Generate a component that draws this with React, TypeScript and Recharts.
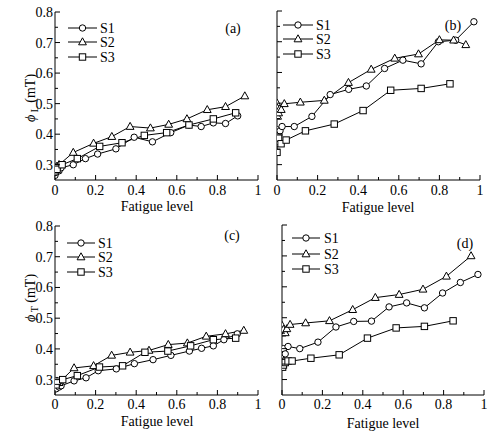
import React from 'react';
import { LineChart, Line, XAxis, YAxis } from 'recharts';

// panel (a) phi_L, sample S1-S3
const aS1X = [0, 0.005, 0.01, 0.02, 0.03, 0.09, 0.15, 0.21, 0.3, 0.39, 0.48, 0.57, 0.66, 0.72, 0.78, 0.84, 0.9];
const aS1Y = [0.265, 0.275, 0.285, 0.28, 0.29, 0.3, 0.32, 0.335, 0.352, 0.39, 0.375, 0.405, 0.43, 0.425, 0.437, 0.435, 0.46];
const aS2X = [0, 0.005, 0.01, 0.02, 0.09, 0.19, 0.28, 0.37, 0.47, 0.56, 0.65, 0.75, 0.84, 0.935];
const aS2Y = [0.285, 0.29, 0.295, 0.3, 0.34, 0.37, 0.392, 0.425, 0.42, 0.432, 0.45, 0.48, 0.49, 0.525];
const aS3X = [0, 0.005, 0.01, 0.035, 0.11, 0.22, 0.33, 0.44, 0.55, 0.66, 0.78, 0.89];
const aS3Y = [0.28, 0.29, 0.285, 0.3, 0.32, 0.36, 0.372, 0.396, 0.405, 0.43, 0.45, 0.47];

// panel (b)
const bS1X = [0, 0.003, 0.006, 0.01, 0.015, 0.025, 0.085, 0.172, 0.262, 0.353, 0.44, 0.53, 0.62, 0.71, 0.795, 0.88, 0.97];
const bS1Y = [0.4, 0.413, 0.39, 0.397, 0.41, 0.424, 0.424, 0.457, 0.528, 0.545, 0.556, 0.613, 0.64, 0.628, 0.7, 0.705, 0.765];
const bS2X = [0, 0.001, 0.003, 0.008, 0.013, 0.021, 0.036, 0.115, 0.233, 0.352, 0.464, 0.58, 0.697, 0.8, 0.87, 0.93];
const bS2Y = [0.5, 0.484, 0.457, 0.468, 0.481, 0.479, 0.498, 0.503, 0.509, 0.567, 0.61, 0.646, 0.66, 0.706, 0.705, 0.69];
const bS3X = [0, 0, 0.003, 0.008, 0.02, 0.045, 0.14, 0.282, 0.424, 0.56, 0.71, 0.852];
const bS3Y = [0.34, 0.37, 0.375, 0.386, 0.368, 0.38, 0.41, 0.432, 0.476, 0.542, 0.548, 0.563];

// panel (c) phi_T
const cS1X = [0, 0.005, 0.01, 0.02, 0.03, 0.094, 0.153, 0.213, 0.302, 0.391, 0.483, 0.571, 0.662, 0.722, 0.78, 0.832, 0.898];
const cS1Y = [0.28, 0.27, 0.285, 0.276, 0.28, 0.296, 0.306, 0.329, 0.335, 0.352, 0.365, 0.379, 0.393, 0.402, 0.41, 0.43, 0.449];
const cS2X = [0, 0.005, 0.01, 0.02, 0.094, 0.19, 0.279, 0.37, 0.463, 0.558, 0.652, 0.745, 0.84, 0.93];
const cS2Y = [0.29, 0.285, 0.295, 0.29, 0.338, 0.345, 0.379, 0.389, 0.395, 0.414, 0.419, 0.441, 0.449, 0.46];
const cS3X = [0, 0.005, 0.012, 0.038, 0.11, 0.219, 0.333, 0.443, 0.556, 0.668, 0.78, 0.89];
const cS3Y = [0.29, 0.283, 0.295, 0.3, 0.313, 0.341, 0.345, 0.389, 0.393, 0.41, 0.43, 0.435];

// panel (d)
const dS1X = [0, 0.002, 0.008, 0.016, 0.03, 0.088, 0.178, 0.267, 0.355, 0.443, 0.53, 0.617, 0.705, 0.795, 0.883, 0.97];
const dS1Y = [0.389, 0.38, 0.4, 0.383, 0.407, 0.4, 0.421, 0.47, 0.488, 0.489, 0.535, 0.548, 0.532, 0.58, 0.614, 0.64];
const dS2X = [0, 0, 0.007, 0.016, 0.024, 0.04, 0.117, 0.235, 0.35, 0.462, 0.58, 0.698, 0.814, 0.936];
const dS2Y = [0.475, 0.45, 0.462, 0.451, 0.464, 0.478, 0.483, 0.49, 0.526, 0.565, 0.575, 0.592, 0.634, 0.7];
const dS3X = [0, 0.003, 0.007, 0.016, 0.03, 0.05, 0.143, 0.283, 0.423, 0.565, 0.705, 0.847];
const dS3Y = [0.356, 0.34, 0.347, 0.355, 0.36, 0.36, 0.369, 0.38, 0.434, 0.467, 0.472, 0.49];

const seriesNames = ['S1', 'S2', 'S3'];
const xTicks = [0, 0.1, 0.2, 0.3, 0.4, 0.5, 0.6, 0.7, 0.8, 0.9, 1];
const yTicks = [0.3, 0.35, 0.4, 0.45, 0.5, 0.55, 0.6, 0.65, 0.7, 0.75, 0.8];

const FONT = "'Liberation Serif', 'DejaVu Serif', serif";
const SHAPES = ['circle', 'triangle', 'square'];
const txtStyle = { fontFamily: FONT, fontSize: 14, fill: '#000' };

type Pt = { x: number; y: number };
const zip = (xs: number[], ys: number[]): Pt[] => xs.map((x, i) => ({ x, y: ys[i] }));

const Marker = ({ shape, cx, cy }: { shape: string; cx: number; cy: number }) => {
  if (shape === 'circle') return <circle cx={cx} cy={cy} r={3.2} fill="#fff" stroke="#000" strokeWidth={1} />;
  if (shape === 'triangle')
    return (
      <polygon
        points={`${cx},${cy - 4.2} ${cx - 3.9},${cy + 2.8} ${cx + 3.9},${cy + 2.8}`}
        fill="#fff"
        stroke="#000"
        strokeWidth={1}
      />
    );
  return <rect x={cx - 3.2} y={cy - 3.2} width={6.4} height={6.4} fill="#fff" stroke="#000" strokeWidth={1} />;
};

const isMajorX = (v: number) => Math.round(v * 10) % 2 === 0;
const isMajorY = (v: number) => Math.round(v * 100) % 10 === 0;
const fmtX = (v: number) => (v === 0 ? '0' : v === 1 ? '1' : v.toFixed(1));

const panels = [
  { id: 'a', plot: { x: 55, y: 12, w: 203, h: 168 }, labels: true, tickDy: 15, series: [zip(aS1X, aS1Y), zip(aS2X, aS2Y), zip(aS3X, aS3Y)] },
  { id: 'b', plot: { x: 277, y: 11, w: 203, h: 169 }, labels: false, tickDy: 15, series: [zip(bS1X, bS1Y), zip(bS2X, bS2Y), zip(bS3X, bS3Y)] },
  { id: 'c', plot: { x: 55, y: 226, w: 203, h: 169 }, labels: true, tickDy: 13.5, series: [zip(cS1X, cS1Y), zip(cS2X, cS2Y), zip(cS3X, cS3Y)] },
  { id: 'd', plot: { x: 282, y: 225, w: 202, h: 170 }, labels: false, tickDy: 13.5, series: [zip(dS1X, dS1Y), zip(dS2X, dS2Y), zip(dS3X, dS3Y)] },
];

const legends = [
  { x1: 68, x2: 97, tx: 100, rows: [28, 42, 57], tag: { x: 233, y: 33, t: '(a)' } },
  { x1: 283, x2: 313, tx: 316, rows: [25, 39, 54], tag: { x: 453, y: 30, t: '(b)' } },
  { x1: 67, x2: 95, tx: 98, rows: [243, 257, 272], tag: { x: 232, y: 240, t: '(c)' } },
  { x1: 292, x2: 320, tx: 324, rows: [238, 254, 269], tag: { x: 465, y: 248, t: '(d)' } },
];

const xTitles = [
  { x: 157, y: 211 },
  { x: 378, y: 212 },
  { x: 157, y: 426 },
  { x: 383, y: 428 },
];

const Panel = ({ p }: { p: (typeof panels)[number] }) => {
  const padL = 55;
  const padT = 10;
  const padR = 6;
  const bottomH = 40;
  const width = padL + p.plot.w + padR;
  const height = padT + p.plot.h + bottomH;

  const bottomTick = (t: any) => {
    const v = t.payload.value;
    const major = isMajorX(v);
    return (
      <g key={`b${t.index}`}>
        <line x1={t.x} y1={t.y} x2={t.x} y2={t.y - (major ? 5 : 3)} stroke="#000" />
        {major && (
          <text x={t.x} y={t.y + p.tickDy} textAnchor="middle" style={txtStyle}>
            {fmtX(v)}
          </text>
        )}
      </g>
    );
  };
  const topTick = (t: any) => {
    const major = isMajorX(t.payload.value);
    return <line key={`t${t.index}`} x1={t.x} y1={t.y} x2={t.x} y2={t.y + (major ? 5 : 3)} stroke="#000" />;
  };
  const leftTick = (t: any) => {
    const v = t.payload.value;
    const major = isMajorY(v);
    return (
      <g key={`l${t.index}`}>
        <line x1={t.x} y1={t.y} x2={t.x + (major ? 5 : 3)} y2={t.y} stroke="#000" />
        {major && p.labels && (
          <text x={t.x - 2} y={t.y} dy="0.36em" textAnchor="end" style={txtStyle}>
            {v.toFixed(1)}
          </text>
        )}
      </g>
    );
  };
  const rightTick = (t: any) => {
    const major = isMajorY(t.payload.value);
    return <line key={`r${t.index}`} x1={t.x} y1={t.y} x2={t.x - (major ? 5 : 3)} y2={t.y} stroke="#000" />;
  };

  return (
    <div style={{ position: 'absolute', left: p.plot.x - padL, top: p.plot.y - padT }}>
      <LineChart width={width} height={height} margin={{ top: padT, right: padR, bottom: 0, left: 0 }}>
        <XAxis
          dataKey="x"
          type="number"
          domain={[0, 1]}
          ticks={xTicks}
          interval={0}
          height={bottomH}
          tickLine={false}
          tickSize={0}
          tickMargin={0}
          axisLine={{ stroke: '#000' }}
          tick={bottomTick}
          allowDataOverflow
        />
        <XAxis
          xAxisId="top"
          orientation="top"
          type="number"
          domain={[0, 1]}
          ticks={xTicks}
          interval={0}
          height={0}
          tickLine={false}
          tickSize={0}
          tickMargin={0}
          axisLine={{ stroke: '#000' }}
          tick={topTick}
        />
        <YAxis
          type="number"
          domain={[0.25, 0.8]}
          ticks={yTicks}
          interval={0}
          width={padL}
          tickLine={false}
          tickSize={0}
          tickMargin={0}
          axisLine={{ stroke: '#000' }}
          tick={leftTick}
          allowDataOverflow
        />
        <YAxis
          yAxisId="right"
          orientation="right"
          type="number"
          domain={[0.25, 0.8]}
          ticks={yTicks}
          interval={0}
          width={0}
          tickLine={false}
          tickSize={0}
          tickMargin={0}
          axisLine={{ stroke: '#000' }}
          tick={rightTick}
        />
        {p.series.map((data, si) => (
          <Line
            key={seriesNames[si]}
            name={seriesNames[si]}
            data={data}
            dataKey="y"
            type="linear"
            stroke="#000"
            strokeWidth={1}
            isAnimationActive={false}
            dot={(d: any) => <Marker key={`${si}-${d.index}`} shape={SHAPES[si]} cx={d.cx} cy={d.cy} />}
            activeDot={false}
          />
        ))}
      </LineChart>
    </div>
  );
};

const YTitle = ({ x, y, sub }: { x: number; y: number; sub: string }) => (
  <text transform={`translate(${x},${y}) rotate(-90)`} textAnchor="middle" dy="0.35em" style={txtStyle}>
    <tspan fontStyle="italic">ϕ</tspan>
    <tspan style={{ fontSize: 10 }} dy={3}>
      {' ' + sub}
    </tspan>
    <tspan dy={-3}> (mT)</tspan>
  </text>
);

export default function App() {
  return (
    <div style={{ position: 'absolute', left: 0, top: 0, width: 493, height: 431, background: '#fff', overflow: 'hidden' }}>
      {panels.map((p) => (
        <Panel key={p.id} p={p} />
      ))}
      <svg width={493} height={431} style={{ position: 'absolute', left: 0, top: 0, pointerEvents: 'none' }}>
        {legends.map((lg, li) => (
          <g key={li}>
            {lg.rows.map((ry, si) => (
              <g key={si}>
                <line x1={lg.x1} y1={ry} x2={lg.x2} y2={ry} stroke="#000" strokeWidth={1} />
                <Marker shape={SHAPES[si]} cx={(lg.x1 + lg.x2) / 2} cy={ry} />
                <text x={lg.tx} y={ry + 5} style={txtStyle}>
                  {seriesNames[si]}
                </text>
              </g>
            ))}
            <text x={lg.tag.x} y={lg.tag.y} textAnchor="middle" style={txtStyle}>
              {lg.tag.t}
            </text>
          </g>
        ))}
        {xTitles.map((t, i) => (
          <text key={i} x={t.x} y={t.y} textAnchor="middle" style={txtStyle}>
            Fatigue level
          </text>
        ))}
        <YTitle x={30} y={98} sub="L" />
        <YTitle x={30} y={298} sub="T" />
      </svg>
    </div>
  );
}
